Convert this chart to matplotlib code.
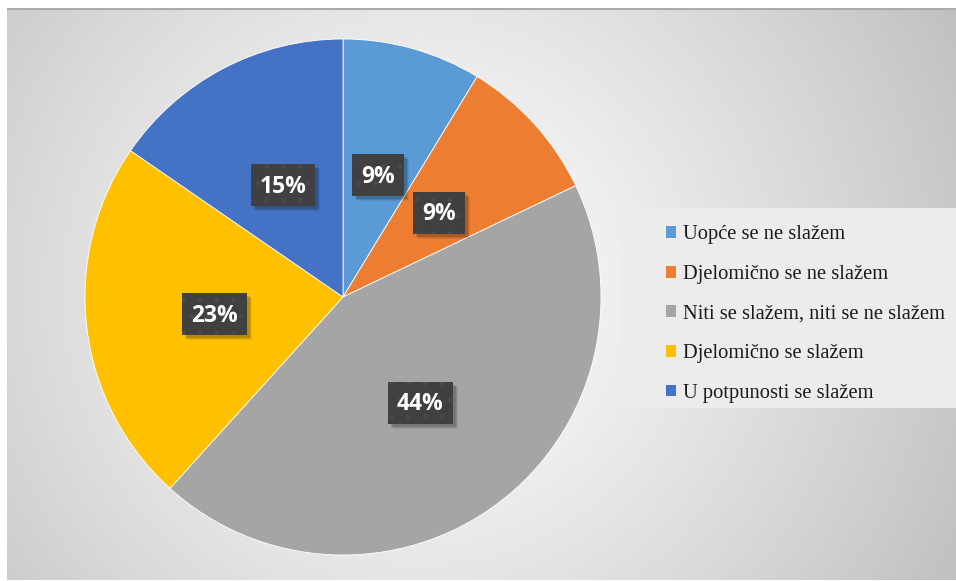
import numpy as np
import matplotlib
matplotlib.use("Agg")
import matplotlib.pyplot as plt
from matplotlib.patches import Patch, Rectangle
import matplotlib.transforms as mtransforms

categories = ["Uopće se ne slažem", "Djelomično se ne slažem",
              "Niti se slažem, niti se ne slažem", "Djelomično se slažem",
              "U potpunosti se slažem"]
values = [8.7, 9.2, 43.8, 22.9, 15.4]
colors = ["#5B9BD5", "#ED7D31", "#A5A5A5", "#FFC000", "#4472C4"]

W, H = 956, 581
fig = plt.figure(figsize=(W / 100, H / 100), dpi=100)
fig.patch.set_facecolor("white")

# background panel with radial gradient
x0, x1, ytop, ybot = 7, 956, 8, 580
bg = fig.add_axes([x0 / W, 1 - ybot / H, (x1 - x0) / W, (ybot - ytop) / H])
bg.set_axis_off()
yy, xx = np.mgrid[ytop:ybot, x0:x1]
d = np.hypot(xx - 420, yy - 290)
v = 255 - 62 * (d / 600) ** 1.2
v = np.clip(v, 185, 255) / 255
img = np.dstack([v, v, v])
bg.imshow(img, aspect="auto", extent=[0, 1, 0, 1], interpolation="bilinear")
bg.set_xlim(0, 1)
bg.set_ylim(0, 1)
bg.plot([0, 1], [0.999, 0.999], color="#ababab", lw=1.5, transform=bg.transAxes)

# legend background
fig.patches.append(Rectangle((621 / W, 1 - 408 / H), (956 - 621) / W, 200 / H,
                             transform=fig.transFigure, facecolor="#ececec",
                             edgecolor="none", zorder=1))

# pie
cx, cy, r = 343, 297, 258
ax = fig.add_axes([(cx - r) / W, (H - cy - r) / H, 2 * r / W, 2 * r / H])
ax.set_axis_off()
plt.rcParams["hatch.linewidth"] = 1.0
wedges, texts, autotexts = ax.pie(
    values, colors=colors, startangle=90, counterclock=False, radius=1,
    autopct=lambda p: f"{p:.0f}%", pctdistance=0.5,
    wedgeprops=dict(edgecolor="white", linewidth=0.6),
    textprops=dict(color="white", fontsize=16.5, fontweight="bold", family="Open Sans"),
    frame=False)
ax.set_xlim(-1, 1)
ax.set_ylim(-1, 1)

off = mtransforms.offset_copy(ax.transData, fig=fig, x=0, y=-4, units="dots")
for t in autotexts:
    t.set_transform(off)

fig.canvas.draw()
renderer = fig.canvas.get_renderer()
inv = fig.transFigure.inverted()
for t in autotexts:
    bb = t.get_window_extent(renderer)
    cxp = (bb.x0 + bb.x1) / 2
    cyp = (bb.y0 + bb.y1) / 2 + 1.5
    bw = bb.width + 18
    bh = 42
    for k, a in [(5, 0.06), (4, 0.10), (3, 0.14)]:
        (fx, fy) = inv.transform((cxp - bw / 2 + k, cyp - bh / 2 - k))
        fig.patches.append(Rectangle((fx, fy), bw / W, bh / H, transform=fig.transFigure,
                                     facecolor="black", edgecolor="none",
                                     alpha=a, zorder=3))
    (fx, fy) = inv.transform((cxp - bw / 2, cyp - bh / 2))
    fig.patches.append(Rectangle((fx, fy), bw / W, bh / H, transform=fig.transFigure,
                                 facecolor="#404040", edgecolor="#4a4a4a", linewidth=0,
                                 hatch=".", zorder=4))

for t in autotexts:
    pos = t.get_window_extent(renderer)
    x = (pos.x0 + pos.x1) / 2 / W
    y = (pos.y0 + pos.y1) / 2 / H
    fig.text(x, y, t.get_text(), color="white", fontsize=16.5, fontweight="bold",
             family="Open Sans", ha="center", va="center", zorder=10)
    t.set_visible(False)

handles = [Patch(facecolor=c, edgecolor="none") for c in colors]
leg = fig.legend(handles, categories, loc="upper left",
                 bbox_to_anchor=(647 / W, 1 - 207 / H), frameon=False,
                 prop=dict(family="Liberation Serif", size=14.8),
                 handlelength=0.5, handleheight=0.5, handletextpad=0.35,
                 labelspacing=1.0, borderpad=0.4)
for t in leg.get_texts():
    t.set_color("#1a1a1a")

fig.savefig("out.png", dpi=100, facecolor="white")
